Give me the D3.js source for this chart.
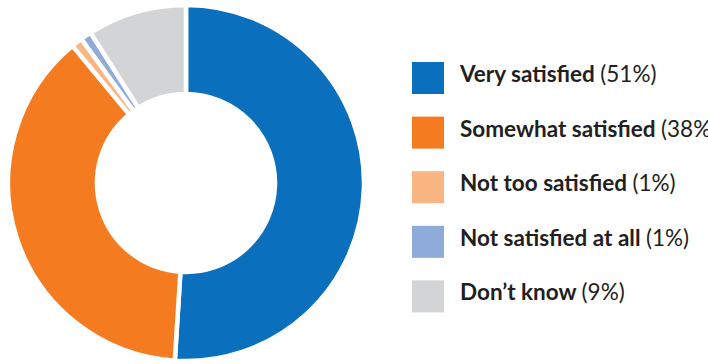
<!DOCTYPE html>
<html>
<head>
<meta charset="utf-8">
<script src="https://cdn.jsdelivr.net/npm/d3@7"></script>
<style>
  html, body { margin: 0; padding: 0; background: #fff; overflow: hidden; }
  svg { display: block; }
</style>
</head>
<body>
<svg id="chart" width="708" height="364"></svg>
<script>
// Survey responses on satisfaction, share of respondents (%)
const categories = ["Very satisfied", "Somewhat satisfied", "Not too satisfied", "Not satisfied at all", "Don\u2019t know"];
const shares = [51, 38, 1, 1, 9];
const colors = ["#0a6fbc", "#f47b20", "#fbb583", "#8eabd9", "#d3d4d6"];

const svg = d3.select("#chart");
const cx = 186, cy = 183, outerR = 178, innerR = 89;

const data = categories.map((c, i) => ({ name: c, value: shares[i], color: colors[i] }));

const pie = d3.pie().value(d => d.value).sort(null).startAngle(0).endAngle(2 * Math.PI);
const arc = d3.arc().innerRadius(innerR).outerRadius(outerR);

svg.append("g")
  .attr("transform", `translate(${cx},${cy})`)
  .selectAll("path")
  .data(pie(data))
  .join("path")
  .attr("d", arc)
  .attr("fill", d => d.data.color)
  .attr("stroke", "#fff")
  .attr("stroke-width", 4.5)
  .attr("stroke-linejoin", "miter");

// Legend
const legendY = d3.scaleBand().domain(categories).range([62, 335]).paddingInner(0);
const legend = svg.append("g");
const rows = legend.selectAll("g").data(data).join("g")
  .attr("transform", d => `translate(412,${legendY(d.name)})`);

rows.append("rect")
  .attr("width", 32).attr("height", 32)
  .attr("fill", d => d.color);

const label = rows.append("text")
  .attr("x", 48).attr("y", 20)
  .attr("fill", "#231f20")
  .style("font-family", "Lato, 'Open Sans', sans-serif")
  .style("font-size", "22.5px");
label.append("tspan").style("font-weight", 700).text(d => d.name + " ");
label.append("tspan").style("font-weight", 400).text(d => `(${d.value}%)`);
</script>
</body>
</html>
